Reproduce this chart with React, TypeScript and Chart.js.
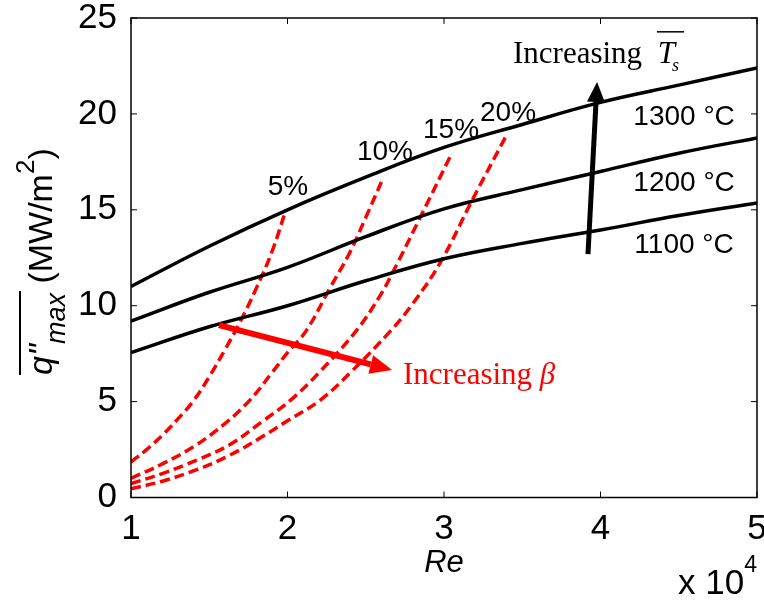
import React, { useEffect, useRef } from 'react';
import { Chart, registerables } from 'chart.js';

Chart.register(...registerables);

// ---- data ----
const reTicks = [1, 2, 3, 4, 5];
const qTicks = [0, 5, 10, 15, 20, 25];

const tempLabels = ['1100 °C', '1200 °C', '1300 °C'];
const tempRe = [1.0, 1.5, 2.0, 2.5, 3.0, 3.5, 4.0, 4.5, 5.0];
const q1100 = [7.55, 8.9, 10.0, 11.3, 12.45, 13.25, 13.95, 14.7, 15.35];
const q1200 = [9.2, 10.7, 12.0, 13.6, 15.05, 16.05, 17.0, 17.95, 18.75];
const q1300 = [11.0, 13.1, 15.0, 16.7, 18.25, 19.45, 20.6, 21.5, 22.4];

const betaLabels = ['5%', '10%', '15%', '20%'];
const beta5Re = [1.0, 1.1, 1.2, 1.3, 1.4, 1.5, 1.6, 1.7, 1.8, 1.9, 1.99];
const beta5Q = [1.85, 2.5, 3.25, 4.1, 5.05, 6.3, 7.7, 9.2, 10.9, 12.8, 15.0];
const beta10Re = [1.0, 1.2, 1.4, 1.6, 1.76, 1.9, 2.0, 2.12, 2.27, 2.4, 2.5, 2.6];
const beta10Q = [1.0, 1.75, 2.65, 3.85, 5.08, 6.5, 7.55, 8.7, 10.9, 12.8, 14.6, 16.45];
const beta15Re = [1.0, 1.2, 1.42, 1.63, 1.845, 2.02, 2.2, 2.44, 2.59, 2.67, 2.86, 3.05];
const beta15Q = [0.72, 1.25, 1.95, 2.75, 4.0, 5.08, 6.5, 8.7, 10.5, 11.7, 14.8, 17.95];
const beta20Re = [1.0, 1.2, 1.42, 1.63, 1.845, 2.0, 2.21, 2.4, 2.66, 2.8, 2.98, 3.18, 3.4];
const beta20Q = [0.45, 0.85, 1.45, 2.2, 3.2, 4.0, 5.08, 6.5, 8.7, 10.1, 12.3, 15.5, 18.9];

const SANS = '"Liberation Sans", Arial, Helvetica, sans-serif';
const SERIF = '"Liberation Serif", "Times New Roman", Times, serif';

const zip = (xs: number[], ys: number[]) => xs.map((x, i) => ({ x, y: ys[i] }));

function arrow(ctx: CanvasRenderingContext2D, x0: number, y0: number, x1: number, y1: number, color: string, lw: number, hl: number, hw: number) {
  const dx = x1 - x0, dy = y1 - y0;
  const len = Math.hypot(dx, dy);
  const ux = dx / len, uy = dy / len;
  const bx = x1 - ux * hl, by = y1 - uy * hl;
  ctx.save();
  ctx.strokeStyle = color;
  ctx.fillStyle = color;
  ctx.lineWidth = lw;
  ctx.lineCap = 'butt';
  ctx.beginPath();
  ctx.moveTo(x0, y0);
  ctx.lineTo(bx, by);
  ctx.stroke();
  ctx.beginPath();
  ctx.moveTo(x1, y1);
  ctx.lineTo(bx - uy * hw / 2, by + ux * hw / 2);
  ctx.lineTo(bx + uy * hw / 2, by - ux * hw / 2);
  ctx.closePath();
  ctx.fill();
  ctx.restore();
}

const decorPlugin = {
  id: 'decor',
  afterDraw(chart: any) {
    const ctx: CanvasRenderingContext2D = chart.ctx;
    const xs = chart.scales.x;
    const ys = chart.scales.y;
    const px = (v: number) => xs.getPixelForValue(v);
    const py = (v: number) => ys.getPixelForValue(v);
    const { left, right, top, bottom } = chart.chartArea;

    ctx.save();
    // box
    ctx.strokeStyle = '#000';
    ctx.lineWidth = 1.5;
    ctx.strokeRect(left, top, right - left, bottom - top);
    // inward ticks
    ctx.lineWidth = 1;
    ctx.beginPath();
    reTicks.forEach((t) => {
      const x = px(t);
      ctx.moveTo(x, bottom); ctx.lineTo(x, bottom - 6);
      ctx.moveTo(x, top); ctx.lineTo(x, top + 6);
    });
    qTicks.forEach((t) => {
      const y = py(t);
      ctx.moveTo(left, y); ctx.lineTo(left + 6, y);
      ctx.moveTo(right, y); ctx.lineTo(right - 6, y);
    });
    ctx.stroke();

    // beta labels
    ctx.fillStyle = '#000';
    ctx.font = `28px ${SANS}`;
    ctx.textAlign = 'center';
    ctx.textBaseline = 'middle';
    const betaPos = [[2.003, 16.19], [2.623, 18.01], [3.045, 19.16], [3.409, 20.05]];
    betaLabels.forEach((l, i) => ctx.fillText(l, px(betaPos[i][0]), py(betaPos[i][1])));
    // temperature labels
    const tempPos = [13.16, 16.4, 19.84];
    tempLabels.forEach((l, i) => ctx.fillText(l, px(4.534), py(tempPos[i])));

    // arrows
    arrow(ctx, px(3.92), py(12.69), px(3.978), py(21.66), '#000', 5, 20, 18);
    arrow(ctx, px(1.562), py(8.99), px(2.668), py(6.65), '#ff0000', 6, 22, 19);

    // Increasing T_s
    ctx.textAlign = 'left';
    ctx.textBaseline = 'alphabetic';
    ctx.fillStyle = '#000';
    ctx.font = `31px ${SERIF}`;
    let x = px(3.441);
    const yb = py(22.65);
    ctx.fillText('Increasing ', x, yb);
    x += ctx.measureText('Increasing ').width + 8;
    ctx.font = `italic 31px ${SERIF}`;
    ctx.fillText('T', x, yb);
    const tw = ctx.measureText('T').width;
    ctx.font = `italic 18px ${SERIF}`;
    ctx.fillText('s', x + tw - 3, yb + 8);
    ctx.fillRect(x - 1, yb - 32, tw + 10, 1.5);

    // Increasing beta
    ctx.fillStyle = '#ff0000';
    ctx.font = `31px ${SERIF}`;
    x = px(2.738);
    const yb2 = py(5.92);
    ctx.fillText('Increasing ', x, yb2);
    x += ctx.measureText('Increasing ').width;
    ctx.font = `italic 31px ${SERIF}`;
    ctx.fillText('β', x, yb2);

    // x title
    ctx.fillStyle = '#000';
    ctx.textAlign = 'center';
    ctx.font = `italic 31px ${SANS}`;
    ctx.fillText('Re', px(3), bottom + 74);
    // x 10^4
    ctx.textAlign = 'right';
    ctx.font = `23px ${SANS}`;
    ctx.fillText('4', right, bottom + 74);
    const w4 = ctx.measureText('4').width;
    ctx.font = `35px ${SANS}`;
    ctx.fillText('x 10', right - w4, bottom + 96);

    // y title (rotated)
    ctx.translate(52, 375);
    ctx.rotate(-Math.PI / 2);
    ctx.textAlign = 'left';
    ctx.textBaseline = 'alphabetic';
    let u = 0;
    ctx.font = `italic 34px ${SANS}`;
    ctx.fillText('q"', u, 0);
    u += ctx.measureText('q"').width;
    ctx.font = `italic 27px ${SANS}`;
    ctx.fillText('max', u, 13);
    u += ctx.measureText('max').width;
    ctx.fillRect(0, -33, u + 2, 2);
    ctx.font = `34px ${SANS}`;
    ctx.fillText(' (MW/m', u, 0);
    u += ctx.measureText(' (MW/m').width;
    ctx.font = `26px ${SANS}`;
    ctx.fillText('2', u, -18);
    u += ctx.measureText('2').width;
    ctx.font = `34px ${SANS}`;
    ctx.fillText(')', u, 0);

    ctx.restore();
  },
};

export default function App() {
  const ref = useRef<HTMLCanvasElement>(null);
  useEffect(() => {
    if (!ref.current) return;
    const black = { borderColor: '#000', borderWidth: 3.5, pointRadius: 0, fill: false, tension: 0.4 };
    const red = { borderColor: '#ff0000', borderWidth: 3.5, borderDash: [10, 5], pointRadius: 0, fill: false, tension: 0.4 };
    const chart = new Chart(ref.current, {
      type: 'line',
      data: {
        datasets: [
          { label: tempLabels[0], data: zip(tempRe, q1100), ...black },
          { label: tempLabels[1], data: zip(tempRe, q1200), ...black },
          { label: tempLabels[2], data: zip(tempRe, q1300), ...black },
          { label: betaLabels[0], data: zip(beta5Re, beta5Q), ...red },
          { label: betaLabels[1], data: zip(beta10Re, beta10Q), ...red },
          { label: betaLabels[2], data: zip(beta15Re, beta15Q), ...red },
          { label: betaLabels[3], data: zip(beta20Re, beta20Q), ...red },
        ],
      },
      options: {
        responsive: false,
        animation: false,
        layout: { padding: { left: 0, right: 7, top: 18, bottom: 0 } },
        plugins: { legend: { display: false }, tooltip: { enabled: false } },
        scales: {
          x: {
            type: 'linear',
            min: 1,
            max: 5,
            grid: { display: false },
            border: { display: false },
            ticks: { stepSize: 1, color: '#000', font: { size: 35, family: SANS }, padding: 3, maxRotation: 0, autoSkip: false },
            afterFit: (s: any) => { s.height = 102.5; s.paddingLeft = 0; s.paddingRight = 0; },
          },
          y: {
            type: 'linear',
            min: 0,
            max: 25,
            grid: { display: false },
            border: { display: false },
            ticks: { stepSize: 5, color: '#000', font: { size: 35, family: SANS }, padding: 6 },
            afterFit: (s: any) => { s.width = 131; s.paddingTop = 0; s.paddingBottom = 0; },
          },
        },
      },
      plugins: [decorPlugin],
    });
    return () => chart.destroy();
  }, []);
  return (
    <div style={{ position: 'absolute', left: 0, top: 0, width: 764, height: 600, background: '#fff' }}>
      <canvas ref={ref} width={764} height={600} />
    </div>
  );
}
